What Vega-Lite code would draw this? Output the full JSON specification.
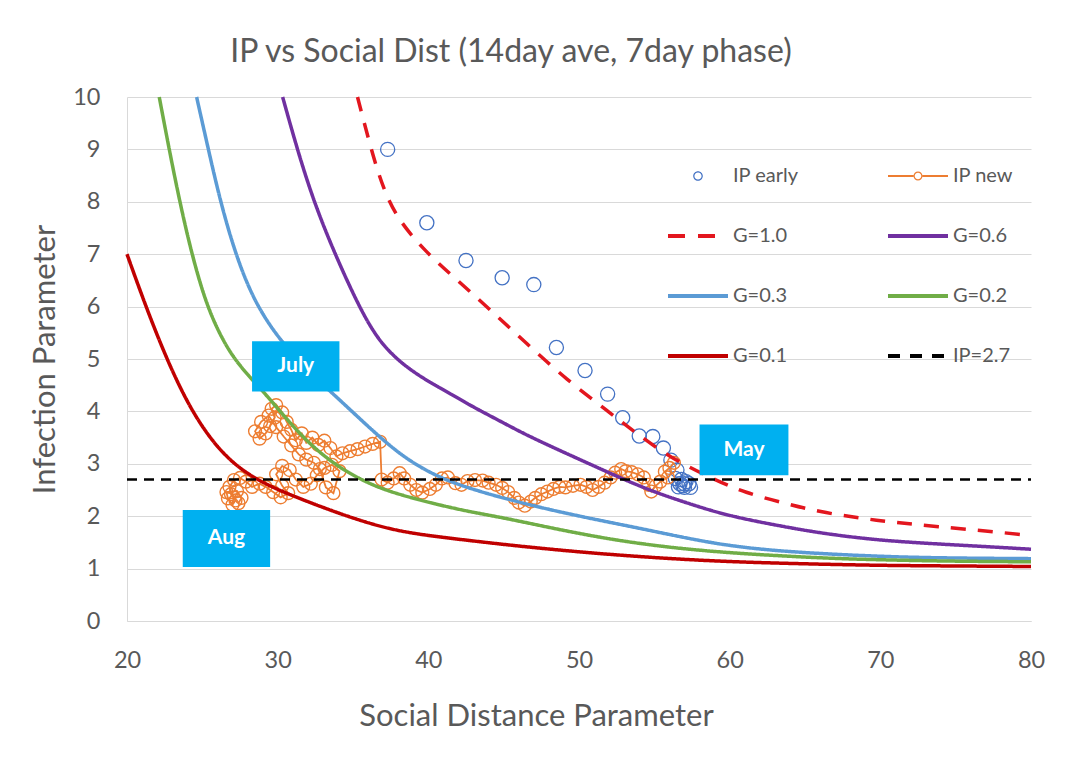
{
  "$schema": "https://vega.github.io/schema/vega-lite/v6.json",
  "width": 904,
  "height": 524,
  "autosize": {"type": "none"},
  "padding": {"left": 127, "top": 97, "right": 43, "bottom": 153},
  "background": "white",
  "title": {"text": "IP vs Social Dist (14day ave, 7day phase)", "fontSize": 32, "font": "Lato", "fontWeight": "normal", "color": "#595959", "anchor": "middle", "frame": "group", "dx": -68, "offset": 16},
  "datasets": {
    "early": [
      {"series": "IP early", "x": 37.3, "y": 9.0},
      {"series": "IP early", "x": 39.9, "y": 7.6},
      {"series": "IP early", "x": 42.5, "y": 6.88},
      {"series": "IP early", "x": 44.9, "y": 6.55},
      {"series": "IP early", "x": 47.0, "y": 6.42},
      {"series": "IP early", "x": 48.5, "y": 5.22},
      {"series": "IP early", "x": 50.4, "y": 4.78},
      {"series": "IP early", "x": 51.9, "y": 4.33},
      {"series": "IP early", "x": 52.9, "y": 3.88},
      {"series": "IP early", "x": 54.0, "y": 3.53},
      {"series": "IP early", "x": 54.9, "y": 3.52},
      {"series": "IP early", "x": 55.6, "y": 3.3},
      {"series": "IP early", "x": 56.1, "y": 3.07},
      {"series": "IP early", "x": 56.5, "y": 2.88},
      {"series": "IP early", "x": 56.4, "y": 2.72},
      {"series": "IP early", "x": 56.7, "y": 2.62},
      {"series": "IP early", "x": 57.0, "y": 2.55},
      {"series": "IP early", "x": 57.3, "y": 2.62},
      {"series": "IP early", "x": 56.8, "y": 2.7},
      {"series": "IP early", "x": 57.1, "y": 2.66},
      {"series": "IP early", "x": 56.6, "y": 2.56},
      {"series": "IP early", "x": 57.4, "y": 2.55},
      {"series": "IP early", "x": 57.0, "y": 2.62},
      {"series": "IP early", "x": 56.9, "y": 2.58}
    ],
    "ipnew": [
      {"series": "IP new", "x": 56.3, "y": 3.02},
      {"series": "IP new", "x": 56.0, "y": 2.92},
      {"series": "IP new", "x": 55.7, "y": 2.85},
      {"series": "IP new", "x": 55.9, "y": 2.74},
      {"series": "IP new", "x": 55.4, "y": 2.66},
      {"series": "IP new", "x": 55.1, "y": 2.58},
      {"series": "IP new", "x": 54.8, "y": 2.47},
      {"series": "IP new", "x": 54.6, "y": 2.6},
      {"series": "IP new", "x": 54.3, "y": 2.74},
      {"series": "IP new", "x": 53.9, "y": 2.8},
      {"series": "IP new", "x": 53.5, "y": 2.84},
      {"series": "IP new", "x": 53.1, "y": 2.86},
      {"series": "IP new", "x": 52.8, "y": 2.9},
      {"series": "IP new", "x": 52.4, "y": 2.83},
      {"series": "IP new", "x": 52.1, "y": 2.74},
      {"series": "IP new", "x": 51.7, "y": 2.64},
      {"series": "IP new", "x": 51.3, "y": 2.56},
      {"series": "IP new", "x": 50.9, "y": 2.5},
      {"series": "IP new", "x": 50.5, "y": 2.56},
      {"series": "IP new", "x": 50.1, "y": 2.6},
      {"series": "IP new", "x": 49.6, "y": 2.58},
      {"series": "IP new", "x": 49.1, "y": 2.55},
      {"series": "IP new", "x": 48.7, "y": 2.56},
      {"series": "IP new", "x": 48.3, "y": 2.52},
      {"series": "IP new", "x": 47.9, "y": 2.47},
      {"series": "IP new", "x": 47.5, "y": 2.42},
      {"series": "IP new", "x": 47.1, "y": 2.35},
      {"series": "IP new", "x": 46.8, "y": 2.28},
      {"series": "IP new", "x": 46.4, "y": 2.2},
      {"series": "IP new", "x": 46.0, "y": 2.26},
      {"series": "IP new", "x": 45.7, "y": 2.35},
      {"series": "IP new", "x": 45.3, "y": 2.46},
      {"series": "IP new", "x": 44.9, "y": 2.54},
      {"series": "IP new", "x": 44.5, "y": 2.6},
      {"series": "IP new", "x": 44.0, "y": 2.64},
      {"series": "IP new", "x": 43.6, "y": 2.68},
      {"series": "IP new", "x": 43.1, "y": 2.69},
      {"series": "IP new", "x": 42.6, "y": 2.67},
      {"series": "IP new", "x": 42.2, "y": 2.6},
      {"series": "IP new", "x": 41.8, "y": 2.63},
      {"series": "IP new", "x": 41.3, "y": 2.74},
      {"series": "IP new", "x": 40.9, "y": 2.72},
      {"series": "IP new", "x": 40.5, "y": 2.6},
      {"series": "IP new", "x": 40.1, "y": 2.52},
      {"series": "IP new", "x": 39.6, "y": 2.45},
      {"series": "IP new", "x": 39.2, "y": 2.5},
      {"series": "IP new", "x": 38.8, "y": 2.6},
      {"series": "IP new", "x": 38.4, "y": 2.72},
      {"series": "IP new", "x": 38.1, "y": 2.82},
      {"series": "IP new", "x": 37.7, "y": 2.72},
      {"series": "IP new", "x": 37.3, "y": 2.64},
      {"series": "IP new", "x": 36.9, "y": 2.7},
      {"series": "IP new", "x": 36.8, "y": 3.42},
      {"series": "IP new", "x": 36.3, "y": 3.38},
      {"series": "IP new", "x": 35.8, "y": 3.33},
      {"series": "IP new", "x": 35.3, "y": 3.28},
      {"series": "IP new", "x": 34.8, "y": 3.24},
      {"series": "IP new", "x": 34.3, "y": 3.2},
      {"series": "IP new", "x": 33.9, "y": 3.14},
      {"series": "IP new", "x": 33.5, "y": 3.3},
      {"series": "IP new", "x": 33.1, "y": 3.44},
      {"series": "IP new", "x": 32.7, "y": 3.36},
      {"series": "IP new", "x": 32.3, "y": 3.5},
      {"series": "IP new", "x": 31.9, "y": 3.4},
      {"series": "IP new", "x": 31.6, "y": 3.58},
      {"series": "IP new", "x": 31.2, "y": 3.45},
      {"series": "IP new", "x": 30.9, "y": 3.65},
      {"series": "IP new", "x": 30.6, "y": 3.8},
      {"series": "IP new", "x": 30.3, "y": 3.98},
      {"series": "IP new", "x": 29.9, "y": 4.12},
      {"series": "IP new", "x": 29.6, "y": 4.05},
      {"series": "IP new", "x": 29.8, "y": 3.88},
      {"series": "IP new", "x": 29.5, "y": 3.72},
      {"series": "IP new", "x": 29.2, "y": 3.58},
      {"series": "IP new", "x": 28.8, "y": 3.48},
      {"series": "IP new", "x": 28.5, "y": 3.62},
      {"series": "IP new", "x": 28.9, "y": 3.8},
      {"series": "IP new", "x": 29.4, "y": 3.92},
      {"series": "IP new", "x": 29.9, "y": 3.7},
      {"series": "IP new", "x": 30.4, "y": 3.52},
      {"series": "IP new", "x": 30.9, "y": 3.35},
      {"series": "IP new", "x": 31.4, "y": 3.18},
      {"series": "IP new", "x": 31.9, "y": 3.08},
      {"series": "IP new", "x": 32.4, "y": 3.02},
      {"series": "IP new", "x": 32.8, "y": 2.9},
      {"series": "IP new", "x": 33.2, "y": 2.55},
      {"series": "IP new", "x": 33.7, "y": 2.44},
      {"series": "IP new", "x": 34.1, "y": 2.86},
      {"series": "IP new", "x": 33.6, "y": 2.98},
      {"series": "IP new", "x": 33.1, "y": 2.92},
      {"series": "IP new", "x": 32.6, "y": 2.78},
      {"series": "IP new", "x": 32.2, "y": 2.62},
      {"series": "IP new", "x": 31.7, "y": 2.56},
      {"series": "IP new", "x": 31.2, "y": 2.7},
      {"series": "IP new", "x": 30.8, "y": 2.88},
      {"series": "IP new", "x": 30.3, "y": 2.96},
      {"series": "IP new", "x": 29.9, "y": 2.8},
      {"series": "IP new", "x": 30.3, "y": 2.58},
      {"series": "IP new", "x": 30.7, "y": 2.44},
      {"series": "IP new", "x": 30.2, "y": 2.36},
      {"series": "IP new", "x": 29.7, "y": 2.46},
      {"series": "IP new", "x": 29.2, "y": 2.56},
      {"series": "IP new", "x": 28.8, "y": 2.62},
      {"series": "IP new", "x": 28.3, "y": 2.56},
      {"series": "IP new", "x": 27.9, "y": 2.66},
      {"series": "IP new", "x": 27.5, "y": 2.73},
      {"series": "IP new", "x": 27.1, "y": 2.69},
      {"series": "IP new", "x": 26.8, "y": 2.56},
      {"series": "IP new", "x": 26.9, "y": 2.42},
      {"series": "IP new", "x": 27.2, "y": 2.3},
      {"series": "IP new", "x": 27.0, "y": 2.22},
      {"series": "IP new", "x": 26.7, "y": 2.34},
      {"series": "IP new", "x": 26.6, "y": 2.46},
      {"series": "IP new", "x": 27.3, "y": 2.48},
      {"series": "IP new", "x": 27.6, "y": 2.35},
      {"series": "IP new", "x": 27.4, "y": 2.25}
    ],
    "curves": [
      {"series": "G=1.0", "x": 35.3, "y": 10},
      {"series": "G=1.0", "x": 36.2, "y": 9.0},
      {"series": "G=1.0", "x": 37.0, "y": 8.25},
      {"series": "G=1.0", "x": 38.0, "y": 7.65},
      {"series": "G=1.0", "x": 39.9, "y": 7.02},
      {"series": "G=1.0", "x": 41.9, "y": 6.51},
      {"series": "G=1.0", "x": 44.1, "y": 5.94},
      {"series": "G=1.0", "x": 46.5, "y": 5.3},
      {"series": "G=1.0", "x": 49.2, "y": 4.6},
      {"series": "G=1.0", "x": 51.8, "y": 4.03},
      {"series": "G=1.0", "x": 53.5, "y": 3.65},
      {"series": "G=1.0", "x": 56.0, "y": 3.12},
      {"series": "G=1.0", "x": 59.05, "y": 2.69},
      {"series": "G=1.0", "x": 61.0, "y": 2.45},
      {"series": "G=1.0", "x": 63.6, "y": 2.25},
      {"series": "G=1.0", "x": 66.0, "y": 2.08},
      {"series": "G=1.0", "x": 68.7, "y": 1.96},
      {"series": "G=1.0", "x": 71.0, "y": 1.88},
      {"series": "G=1.0", "x": 73.8, "y": 1.8},
      {"series": "G=1.0", "x": 77.0, "y": 1.72},
      {"series": "G=1.0", "x": 80.0, "y": 1.63},
      {"series": "G=0.6", "x": 30.33, "y": 10},
      {"series": "G=0.6", "x": 31.3, "y": 9.0},
      {"series": "G=0.6", "x": 32.4, "y": 8.0},
      {"series": "G=0.6", "x": 33.8, "y": 7.0},
      {"series": "G=0.6", "x": 35.4, "y": 6.0},
      {"series": "G=0.6", "x": 36.4, "y": 5.5},
      {"series": "G=0.6", "x": 37.2, "y": 5.2},
      {"series": "G=0.6", "x": 38.3, "y": 4.9},
      {"series": "G=0.6", "x": 39.7, "y": 4.62},
      {"series": "G=0.6", "x": 41.5, "y": 4.33},
      {"series": "G=0.6", "x": 43.0, "y": 4.08},
      {"series": "G=0.6", "x": 44.6, "y": 3.84},
      {"series": "G=0.6", "x": 46.3, "y": 3.58},
      {"series": "G=0.6", "x": 48.0, "y": 3.35},
      {"series": "G=0.6", "x": 49.6, "y": 3.14},
      {"series": "G=0.6", "x": 51.6, "y": 2.88},
      {"series": "G=0.6", "x": 53.0, "y": 2.7},
      {"series": "G=0.6", "x": 55.0, "y": 2.46},
      {"series": "G=0.6", "x": 57.5, "y": 2.22},
      {"series": "G=0.6", "x": 60.0, "y": 2.0},
      {"series": "G=0.6", "x": 63.6, "y": 1.8},
      {"series": "G=0.6", "x": 66.0, "y": 1.68},
      {"series": "G=0.6", "x": 68.7, "y": 1.58},
      {"series": "G=0.6", "x": 71.0, "y": 1.52},
      {"series": "G=0.6", "x": 73.8, "y": 1.47},
      {"series": "G=0.6", "x": 77.0, "y": 1.42},
      {"series": "G=0.6", "x": 80.0, "y": 1.37},
      {"series": "G=0.3", "x": 24.62, "y": 10},
      {"series": "G=0.3", "x": 25.4, "y": 9.0},
      {"series": "G=0.3", "x": 26.2, "y": 8.0},
      {"series": "G=0.3", "x": 27.2, "y": 7.0},
      {"series": "G=0.3", "x": 28.3, "y": 6.2},
      {"series": "G=0.3", "x": 29.5, "y": 5.62},
      {"series": "G=0.3", "x": 30.8, "y": 5.15},
      {"series": "G=0.3", "x": 32.2, "y": 4.72},
      {"series": "G=0.3", "x": 33.7, "y": 4.33},
      {"series": "G=0.3", "x": 35.3, "y": 3.9},
      {"series": "G=0.3", "x": 37.0, "y": 3.45},
      {"series": "G=0.3", "x": 38.6, "y": 3.08},
      {"series": "G=0.3", "x": 40.6, "y": 2.75},
      {"series": "G=0.3", "x": 43.0, "y": 2.5},
      {"series": "G=0.3", "x": 46.6, "y": 2.22},
      {"series": "G=0.3", "x": 50.0, "y": 2.0},
      {"series": "G=0.3", "x": 53.5, "y": 1.8},
      {"series": "G=0.3", "x": 56.0, "y": 1.65},
      {"series": "G=0.3", "x": 58.6, "y": 1.5},
      {"series": "G=0.3", "x": 61.0, "y": 1.4},
      {"series": "G=0.3", "x": 63.6, "y": 1.33},
      {"series": "G=0.3", "x": 67.0, "y": 1.27},
      {"series": "G=0.3", "x": 71.2, "y": 1.22},
      {"series": "G=0.3", "x": 75.0, "y": 1.2},
      {"series": "G=0.3", "x": 80.0, "y": 1.19},
      {"series": "G=0.2", "x": 22.14, "y": 10},
      {"series": "G=0.2", "x": 22.8, "y": 9.0},
      {"series": "G=0.2", "x": 23.5, "y": 8.0},
      {"series": "G=0.2", "x": 24.3, "y": 7.0},
      {"series": "G=0.2", "x": 25.2, "y": 6.1},
      {"series": "G=0.2", "x": 26.1, "y": 5.5},
      {"series": "G=0.2", "x": 27.0, "y": 5.05},
      {"series": "G=0.2", "x": 28.0, "y": 4.7},
      {"series": "G=0.2", "x": 29.2, "y": 4.33},
      {"series": "G=0.2", "x": 30.6, "y": 3.85},
      {"series": "G=0.2", "x": 32.1, "y": 3.38},
      {"series": "G=0.2", "x": 33.9, "y": 2.96},
      {"series": "G=0.2", "x": 35.7, "y": 2.67},
      {"series": "G=0.2", "x": 37.45, "y": 2.46},
      {"series": "G=0.2", "x": 40.6, "y": 2.22},
      {"series": "G=0.2", "x": 43.0, "y": 2.07},
      {"series": "G=0.2", "x": 45.0, "y": 1.97},
      {"series": "G=0.2", "x": 48.4, "y": 1.76},
      {"series": "G=0.2", "x": 52.0, "y": 1.56},
      {"series": "G=0.2", "x": 56.0, "y": 1.4},
      {"series": "G=0.2", "x": 60.0, "y": 1.3},
      {"series": "G=0.2", "x": 63.6, "y": 1.24},
      {"series": "G=0.2", "x": 67.0, "y": 1.19},
      {"series": "G=0.2", "x": 71.2, "y": 1.16},
      {"series": "G=0.2", "x": 75.0, "y": 1.14},
      {"series": "G=0.2", "x": 80.0, "y": 1.13},
      {"series": "G=0.1", "x": 20.0, "y": 7.0},
      {"series": "G=0.1", "x": 21.0, "y": 6.2},
      {"series": "G=0.1", "x": 22.0, "y": 5.45},
      {"series": "G=0.1", "x": 23.0, "y": 4.77},
      {"series": "G=0.1", "x": 24.0, "y": 4.18},
      {"series": "G=0.1", "x": 25.0, "y": 3.7},
      {"series": "G=0.1", "x": 26.0, "y": 3.32},
      {"series": "G=0.1", "x": 27.0, "y": 3.03},
      {"series": "G=0.1", "x": 28.0, "y": 2.81},
      {"series": "G=0.1", "x": 29.3, "y": 2.6},
      {"series": "G=0.1", "x": 30.5, "y": 2.45},
      {"series": "G=0.1", "x": 31.7, "y": 2.31},
      {"series": "G=0.1", "x": 33.9, "y": 2.07},
      {"series": "G=0.1", "x": 36.1, "y": 1.86},
      {"series": "G=0.1", "x": 38.0, "y": 1.72},
      {"series": "G=0.1", "x": 40.0, "y": 1.63},
      {"series": "G=0.1", "x": 42.0, "y": 1.56},
      {"series": "G=0.1", "x": 45.0, "y": 1.46},
      {"series": "G=0.1", "x": 48.4, "y": 1.36},
      {"series": "G=0.1", "x": 52.0, "y": 1.27},
      {"series": "G=0.1", "x": 56.0, "y": 1.19},
      {"series": "G=0.1", "x": 60.0, "y": 1.13},
      {"series": "G=0.1", "x": 65.0, "y": 1.09},
      {"series": "G=0.1", "x": 70.0, "y": 1.06},
      {"series": "G=0.1", "x": 75.0, "y": 1.05},
      {"series": "G=0.1", "x": 80.0, "y": 1.04}
    ],
    "ref": [
      {"series": "IP=2.7", "x": 20, "y": 2.7},
      {"series": "IP=2.7", "x": 80, "y": 2.7}
    ],
    "notes": [
      {"label": "July", "x": 28.3, "x2": 34.1, "y": 5.34, "y2": 4.38, "cx": 31.2, "cy": 4.86},
      {"label": "May", "x": 58.0, "x2": 63.9, "y": 3.75, "y2": 2.78, "cx": 60.95, "cy": 3.265},
      {"label": "Aug", "x": 23.7, "x2": 29.5, "y": 2.12, "y2": 1.03, "cx": 26.6, "cy": 1.575}
    ]
  },
  "layer": [
    {
      "data": {"name": "early"},
      "mark": {"type": "point", "filled": false, "size": 200, "strokeWidth": 1.3, "opacity": 1},
      "encoding": {
        "x": {"field": "x", "type": "quantitative", "scale": {"domain": [20, 80], "nice": false, "zero": false}, "title": "Social Distance Parameter", "axis": {"values": [20, 30, 40, 50, 60, 70, 80]}},
        "y": {"field": "y", "type": "quantitative", "scale": {"domain": [0, 10], "nice": false}, "title": "Infection Parameter", "axis": {"values": [0, 1, 2, 3, 4, 5, 6, 7, 8, 9, 10]}},
        "color": {
          "field": "series", "type": "nominal",
          "scale": {"domain": ["IP early", "IP new", "G=1.0", "G=0.6", "G=0.3", "G=0.2", "G=0.1", "IP=2.7"], "range": ["#4472C4", "#ED7D31", "#E3161E", "#7030A0", "#5B9BD5", "#70AD47", "#C00000", "#000000"]},
          "legend": {
            "title": null,
            "direction": "horizontal",
            "encode": {"symbols": {"update": {
              "shape": {"signal": "datum.value === 'IP early' ? 'M0.16,0A0.16,0.16,0,1,1,-0.16,0A0.16,0.16,0,1,1,0.16,0ZM0.12,0A0.12,0.12,0,1,0,-0.12,0A0.12,0.12,0,1,0,0.12,0Z' : datum.value === 'IP new' ? 'M-1,-0.03L-0.15,-0.03L-0.15,0.03L-1,0.03ZM0.15,-0.03L1,-0.03L1,0.03L0.15,0.03ZM0.15,0A0.15,0.15,0,1,1,-0.15,0A0.15,0.15,0,1,1,0.15,0ZM0.11,0A0.11,0.11,0,1,0,-0.11,0A0.11,0.11,0,1,0,0.11,0Z' : 'stroke'"},
              "strokeDash": {"signal": "datum.value === 'G=1.0' ? [17,13] : datum.value === 'IP=2.7' ? [12,10] : []"},
              "strokeWidth": {"value": 4},
              "strokeOpacity": {"signal": "(datum.value === 'IP early' || datum.value === 'IP new') ? 0 : 1"},
              "fill": {"signal": "(datum.value === 'IP early' || datum.value === 'IP new') ? scale('color', datum.value) : 'transparent'"},
              "opacity": {"value": 1}
            }}}
          }
        }
      }
    },
    {
      "data": {"name": "ipnew"},
      "mark": {"type": "line", "strokeWidth": 1.8},
      "encoding": {
        "x": {"field": "x", "type": "quantitative", "scale": {"domain": [20, 80], "nice": false, "zero": false}, "title": "Social Distance Parameter"},
        "y": {"field": "y", "type": "quantitative", "scale": {"domain": [0, 10], "nice": false}, "title": "Infection Parameter"},
        "color": {
          "field": "series", "type": "nominal",
          "legend": {
            "title": null,
            "direction": "horizontal",
            "encode": {"symbols": {"update": {
              "shape": {"signal": "datum.value === 'IP early' ? 'M0.16,0A0.16,0.16,0,1,1,-0.16,0A0.16,0.16,0,1,1,0.16,0ZM0.12,0A0.12,0.12,0,1,0,-0.12,0A0.12,0.12,0,1,0,0.12,0Z' : datum.value === 'IP new' ? 'M-1,-0.03L-0.15,-0.03L-0.15,0.03L-1,0.03ZM0.15,-0.03L1,-0.03L1,0.03L0.15,0.03ZM0.15,0A0.15,0.15,0,1,1,-0.15,0A0.15,0.15,0,1,1,0.15,0ZM0.11,0A0.11,0.11,0,1,0,-0.11,0A0.11,0.11,0,1,0,0.11,0Z' : 'stroke'"},
              "strokeDash": {"signal": "datum.value === 'G=1.0' ? [17,13] : datum.value === 'IP=2.7' ? [12,10] : []"},
              "strokeWidth": {"value": 4},
              "strokeOpacity": {"signal": "(datum.value === 'IP early' || datum.value === 'IP new') ? 0 : 1"},
              "fill": {"signal": "(datum.value === 'IP early' || datum.value === 'IP new') ? scale('color', datum.value) : 'transparent'"},
              "opacity": {"value": 1}
            }}}
          }
        },
        "order": {"value": null}
      }
    },
    {
      "data": {"name": "ipnew"},
      "mark": {"type": "point", "filled": false, "size": 165, "strokeWidth": 1.4, "opacity": 1},
      "encoding": {
        "x": {"field": "x", "type": "quantitative", "scale": {"domain": [20, 80], "nice": false, "zero": false}, "title": "Social Distance Parameter"},
        "y": {"field": "y", "type": "quantitative", "scale": {"domain": [0, 10], "nice": false}, "title": "Infection Parameter"},
        "color": {
          "field": "series", "type": "nominal",
          "legend": {
            "title": null,
            "direction": "horizontal",
            "encode": {"symbols": {"update": {
              "shape": {"signal": "datum.value === 'IP early' ? 'M0.16,0A0.16,0.16,0,1,1,-0.16,0A0.16,0.16,0,1,1,0.16,0ZM0.12,0A0.12,0.12,0,1,0,-0.12,0A0.12,0.12,0,1,0,0.12,0Z' : datum.value === 'IP new' ? 'M-1,-0.03L-0.15,-0.03L-0.15,0.03L-1,0.03ZM0.15,-0.03L1,-0.03L1,0.03L0.15,0.03ZM0.15,0A0.15,0.15,0,1,1,-0.15,0A0.15,0.15,0,1,1,0.15,0ZM0.11,0A0.11,0.11,0,1,0,-0.11,0A0.11,0.11,0,1,0,0.11,0Z' : 'stroke'"},
              "strokeDash": {"signal": "datum.value === 'G=1.0' ? [17,13] : datum.value === 'IP=2.7' ? [12,10] : []"},
              "strokeWidth": {"value": 4},
              "strokeOpacity": {"signal": "(datum.value === 'IP early' || datum.value === 'IP new') ? 0 : 1"},
              "fill": {"signal": "(datum.value === 'IP early' || datum.value === 'IP new') ? scale('color', datum.value) : 'transparent'"},
              "opacity": {"value": 1}
            }}}
          }
        }
      }
    },
    {
      "data": {"name": "curves"},
      "mark": {"type": "line", "strokeWidth": 3.5, "interpolate": "basis"},
      "encoding": {
        "x": {"field": "x", "type": "quantitative", "scale": {"domain": [20, 80], "nice": false, "zero": false}, "title": "Social Distance Parameter"},
        "y": {"field": "y", "type": "quantitative", "scale": {"domain": [0, 10], "nice": false}, "title": "Infection Parameter"},
        "color": {
          "field": "series", "type": "nominal",
          "legend": {
            "title": null,
            "direction": "horizontal",
            "encode": {"symbols": {"update": {
              "shape": {"signal": "datum.value === 'IP early' ? 'M0.16,0A0.16,0.16,0,1,1,-0.16,0A0.16,0.16,0,1,1,0.16,0ZM0.12,0A0.12,0.12,0,1,0,-0.12,0A0.12,0.12,0,1,0,0.12,0Z' : datum.value === 'IP new' ? 'M-1,-0.03L-0.15,-0.03L-0.15,0.03L-1,0.03ZM0.15,-0.03L1,-0.03L1,0.03L0.15,0.03ZM0.15,0A0.15,0.15,0,1,1,-0.15,0A0.15,0.15,0,1,1,0.15,0ZM0.11,0A0.11,0.11,0,1,0,-0.11,0A0.11,0.11,0,1,0,0.11,0Z' : 'stroke'"},
              "strokeDash": {"signal": "datum.value === 'G=1.0' ? [17,13] : datum.value === 'IP=2.7' ? [12,10] : []"},
              "strokeWidth": {"value": 4},
              "strokeOpacity": {"signal": "(datum.value === 'IP early' || datum.value === 'IP new') ? 0 : 1"},
              "fill": {"signal": "(datum.value === 'IP early' || datum.value === 'IP new') ? scale('color', datum.value) : 'transparent'"},
              "opacity": {"value": 1}
            }}}
          }
        },
        "strokeDash": {"field": "series", "type": "nominal", "scale": {"domain": ["G=1.0", "G=0.6", "G=0.3", "G=0.2", "G=0.1"], "range": [[15, 12], [1, 0], [1, 0], [1, 0], [1, 0]]}, "legend": null}
      }
    },
    {
      "data": {"name": "ref"},
      "mark": {"type": "line", "strokeWidth": 2.6, "strokeDash": [10, 7]},
      "encoding": {
        "x": {"field": "x", "type": "quantitative", "scale": {"domain": [20, 80], "nice": false, "zero": false}, "title": "Social Distance Parameter"},
        "y": {"field": "y", "type": "quantitative", "scale": {"domain": [0, 10], "nice": false}, "title": "Infection Parameter"},
        "color": {
          "field": "series", "type": "nominal",
          "legend": {
            "title": null,
            "direction": "horizontal",
            "encode": {"symbols": {"update": {
              "shape": {"signal": "datum.value === 'IP early' ? 'M0.16,0A0.16,0.16,0,1,1,-0.16,0A0.16,0.16,0,1,1,0.16,0ZM0.12,0A0.12,0.12,0,1,0,-0.12,0A0.12,0.12,0,1,0,0.12,0Z' : datum.value === 'IP new' ? 'M-1,-0.03L-0.15,-0.03L-0.15,0.03L-1,0.03ZM0.15,-0.03L1,-0.03L1,0.03L0.15,0.03ZM0.15,0A0.15,0.15,0,1,1,-0.15,0A0.15,0.15,0,1,1,0.15,0ZM0.11,0A0.11,0.11,0,1,0,-0.11,0A0.11,0.11,0,1,0,0.11,0Z' : 'stroke'"},
              "strokeDash": {"signal": "datum.value === 'G=1.0' ? [17,13] : datum.value === 'IP=2.7' ? [12,10] : []"},
              "strokeWidth": {"value": 4},
              "strokeOpacity": {"signal": "(datum.value === 'IP early' || datum.value === 'IP new') ? 0 : 1"},
              "fill": {"signal": "(datum.value === 'IP early' || datum.value === 'IP new') ? scale('color', datum.value) : 'transparent'"},
              "opacity": {"value": 1}
            }}}
          }
        }
      }
    },
    {
      "data": {"name": "notes"},
      "mark": {"type": "rect", "color": "#00B0F0"},
      "encoding": {
        "x": {"field": "x", "type": "quantitative", "scale": {"domain": [20, 80], "nice": false, "zero": false}, "title": "Social Distance Parameter"},
        "x2": {"field": "x2"},
        "y": {"field": "y", "type": "quantitative", "scale": {"domain": [0, 10], "nice": false}, "title": "Infection Parameter"},
        "y2": {"field": "y2"}
      }
    },
    {
      "data": {"name": "notes"},
      "mark": {"type": "text", "color": "white", "font": "Lato", "fontWeight": "bold", "fontSize": 21, "align": "center", "baseline": "middle"},
      "encoding": {
        "x": {"field": "cx", "type": "quantitative", "scale": {"domain": [20, 80], "nice": false, "zero": false}, "title": "Social Distance Parameter"},
        "y": {"field": "cy", "type": "quantitative", "scale": {"domain": [0, 10], "nice": false}, "title": "Infection Parameter"},
        "text": {"field": "label"}
      }
    }
  ],
  "config": {
    "font": "Lato",
    "view": {"stroke": null},
    "axis": {"labelFont": "Lato", "titleFont": "Lato", "labelColor": "#595959", "titleColor": "#595959", "titleFontWeight": "normal", "ticks": false, "tickSize": 0},
    "axisX": {"grid": false, "domain": true, "domainColor": "#D9D9D9", "domainWidth": 1, "labelFontSize": 23.5, "labelPadding": 27, "titleFontSize": 31, "titleX": 409, "titleY": 95, "titleBaseline": "middle", "titleAnchor": "middle", "labelFlush": false},
    "axisY": {"grid": true, "gridColor": "#D9D9D9", "gridWidth": 1, "domain": true, "domainColor": "#D9D9D9", "labelFontSize": 23.5, "labelPadding": 27, "titleFontSize": 31, "titleX": -82, "titleY": 262, "titleBaseline": "middle", "titleAnchor": "middle", "labelFlush": false},
    "legend": {"orient": "none", "legendX": 539, "legendY": 47, "columns": 2, "columnPadding": 81, "rowPadding": 18, "symbolSize": 3600, "symbolStrokeWidth": 4, "labelFontSize": 20, "labelFont": "Lato", "labelColor": "#595959", "labelOffset": 3, "padding": 0, "gridAlign": "each"}
  }
}
